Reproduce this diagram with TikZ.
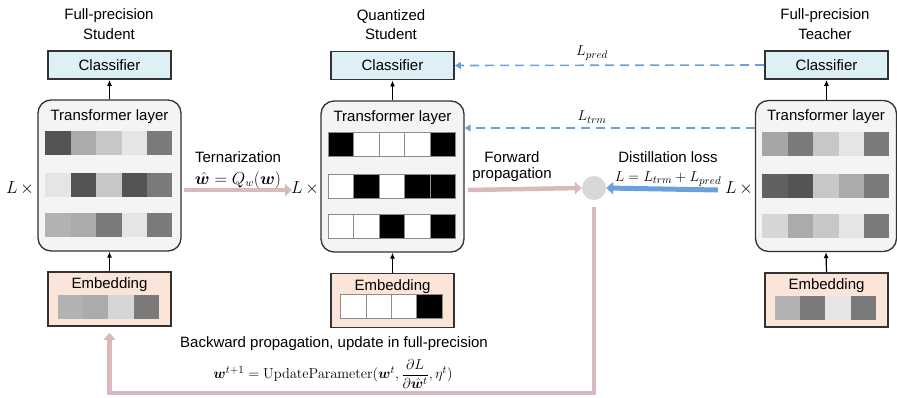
\documentclass[tikz,border=0pt]{standalone}
\usepackage[no-math]{fontspec}
\setmainfont{Liberation Sans}
\usepackage{amsmath,bm}
\usetikzlibrary{arrows.meta,calc}
\definecolor{clsfill}{RGB}{221,240,246}
\definecolor{embfill}{RGB}{250,229,216}
\definecolor{trfill}{RGB}{244,244,244}
\definecolor{boxline}{RGB}{50,50,50}
\definecolor{pinkarr}{RGB}{217,185,187}
\definecolor{bluearr}{RGB}{108,160,220}
\definecolor{circfill}{RGB}{216,216,216}
\tikzset{
  txt/.style={font=\fontsize{15}{18}\selectfont, inner sep=0pt},
  mtxt/.style={font=\fontsize{16}{19}\selectfont, inner sep=0pt},
  clsbox/.style={draw=boxline, line width=1.8pt, fill=clsfill, minimum width=123pt, minimum height=28pt, inner sep=0pt, font=\fontsize{15}{18}\selectfont},
  embbox/.style={draw=boxline, line width=1.8pt, fill=embfill, minimum width=123pt, minimum height=54pt, inner sep=0pt},
  trbox/.style={draw=boxline, line width=1.3pt, fill=trfill, rounded corners=13pt, minimum width=143pt, minimum height=151pt, inner sep=0pt},
  uparr/.style={line width=1.2pt, -{Latex[length=6pt,width=5pt]}},
  pinkline/.style={draw=pinkarr, line width=4.5pt},
  pinkarrow/.style={pinkline, -{Triangle[width=12pt,length=7pt]}},
  bluedash/.style={draw=bluearr, line width=1.6pt, dash pattern=on 9pt off 6pt, -{Triangle[width=7pt,length=6pt]}},
  bluearrow/.style={draw=bluearr, line width=5pt, -{Triangle[width=12pt,length=7pt]}},
  greycell/.style={draw=none},
  bwcell/.style={draw=black!45, line width=0.7pt},
}
\newcommand{\mkrow}[5]{% node, y-offset(center) from north, x inset, style, colours
  \foreach \c [count=\i] in {#5} {
    \path[#4, fill=\c] ($(#1.north west)+({#3+(\i-1)*25.4},#2-12)$) rectangle ++(25.4,24);
  }}
\begin{document}
\begin{tikzpicture}[x=1pt,y=-1pt]
\useasboundingbox (0,0) rectangle (897,397);
% titles
\node[txt] (t1a) at (109,16) {Full-precision};
\node[txt] (t1b) at (109,34) {Student};
\node[txt] (t2a) at (391,16) {Quantized};
\node[txt] (t2b) at (391,34) {Student};
\node[txt] (t3a) at (825,16) {Full-precision};
\node[txt] (t3b) at (825,34) {Teacher};
% left column
\node[clsbox] (clsL) at (109.5,65) {Classifier};
\node[trbox] (trL) at (109.5,175.5) {};
\node[embbox] (embL) at (109.5,299) {};
% middle column
\node[clsbox] (clsQ) at (392.5,65.5) {Classifier};
\node[trbox] (trQ) at (392.5,176.5) {};
\node[embbox] (embQ) at (392.5,300.5) {};
% right column
\node[clsbox] (clsT) at (826.5,65) {Classifier};
\node[trbox, minimum width=141pt] (trT) at (826,176) {};
\node[embbox] (embT) at (826.5,300) {};
% texts in boxes
\foreach \n in {trL,trQ,trT} {
  \node[txt] (\n-lab) at ($(\n.north)+(0,17)$) {Transformer layer};
}
\foreach \n in {embL,embQ,embT} {
  \node[txt] (\n-lab) at ($(\n.north)+(0,14)$) {Embedding};
}
% cells left
\mkrow{trL}{44}{8}{greycell}{black!67,black!33,black!22,black!10,black!52}
\mkrow{trL}{86}{8}{greycell}{black!10,black!67,black!22,black!67,black!52}
\mkrow{trL}{126}{8}{greycell}{black!30,black!33,black!52,black!10,black!52}
\mkrow{embL}{36}{10.5}{greycell}{black!30,black!33,black!16,black!52}
% cells quantized
\mkrow{trQ}{44}{8}{bwcell}{black,white,white,white,black}
\mkrow{trQ}{86}{8}{bwcell}{white,black,white,black,black}
\mkrow{trQ}{126}{8}{bwcell}{white,white,black,white,black}
\mkrow{embQ}{34}{10.5}{bwcell}{white,white,white,black}
% cells teacher
\mkrow{trT}{44}{7.5}{greycell}{black!35,black!52,black!22,black!10,black!52}
\mkrow{trT}{86}{7.5}{greycell}{black!62,black!67,black!22,black!33,black!52}
\mkrow{trT}{126}{7.5}{greycell}{black!16,black!33,black!22,black!10,black!52}
\mkrow{embT}{36}{10.5}{greycell}{black!30,black!52,black!10,black!52}
% vertical black arrows
\foreach \c in {L,Q,T} {
  \draw[uparr] (emb\c.north) -- (tr\c.south);
}
\draw[uparr] (trL.north) -- (clsL.south);
\draw[uparr] (trQ.north) -- (clsQ.south);
\draw[uparr] (clsT.south |- trT.north) -- (clsT.south);
% L x labels
\node[mtxt] (lxL) at (20,188) {$L\,\times$};
\node[mtxt] (lxQ) at (305,188) {$L\,\times$};
\node[mtxt] (lxT) at (739,188) {$L\,\times$};
% circle
\node[circle, fill=circfill, minimum size=24pt, inner sep=0pt] (circ) at (594,188) {};
% ternarization
\coordinate (tS) at (184,190);
\coordinate (tE) at (292,190);
\draw[pinkarrow] (tS) -- (tE);
\node[txt] (tern) at (238,157) {Ternarization};
\node[mtxt] (ternf) at (238,180) {$\hat{\bm{w}} = Q_w(\bm{w})$};
% forward
\coordinate (fS) at (468,190);
\draw[pinkarrow] (fS) -- (circ.west);
\node[txt] (fwd1) at (512,157) {Forward};
\node[txt] (fwd2) at (512,175) {propagation};
% distillation
\coordinate (dS) at (718,190);
\draw[bluearrow] (dS) -- (circ.east);
\node[txt] (dist) at (668,157) {Distillation loss};
\node[txt] (distf) at (668,179) {$L = L_{trm} + L_{pred}$};
% dashed
\draw[bluedash] (clsT.west) -- (clsQ.east);
\draw[bluedash] (trT.west |- 0,128) -- (trQ.east |- 0,128);
\node[txt] (lpred) at (592,53) {$L_{pred}$};
\node[txt] (ltrm) at (592,117) {$L_{trm}$};
% backward
\coordinate (b1) at (594,393);
\coordinate (b2) at (109.5,393);
\draw[pinkarrow] ($(circ.south)+(0,7)$) -- (b1) -- (b2) -- ($(embL.south)+(0,6)$);
\node[txt] (bwd) at (334,344) {Backward propagation, update in full-precision};
\node[txt] (bwdf) at (333,374) {$\bm{w}^{t+1} = \mathrm{UpdateParameter}(\bm{w}^t, \dfrac{\partial L}{\partial \hat{\bm{w}}^t}, \eta^t)$};
\end{tikzpicture}
\end{document}
